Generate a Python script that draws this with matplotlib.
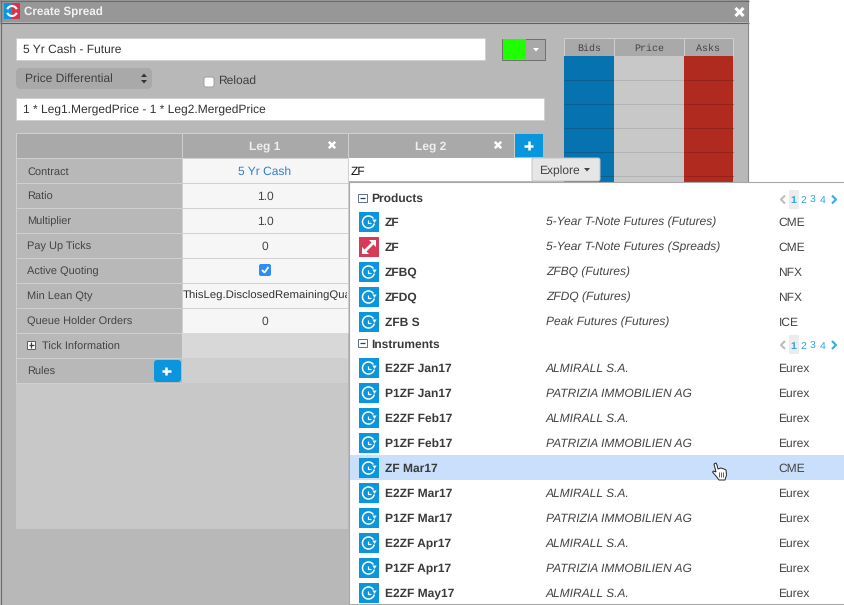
import matplotlib
matplotlib.use('Agg')
import matplotlib.pyplot as plt
from matplotlib.patches import Rectangle, FancyBboxPatch, Arc, Polygon

plt.rcParams['font.family'] = ['Liberation Sans', 'DejaVu Sans']
plt.rcParams['text.hinting'] = 'none'
plt.rcParams['lines.solid_capstyle'] = 'butt'

# text content
row_labels = ['Contract', 'Ratio', 'Multiplier', 'Pay Up Ticks', 'Active Quoting',
              'Min Lean Qty', 'Queue Holder Orders', 'Tick Information', 'Rules']
leg1_values = ['5 Yr Cash', '1.0', '1.0', '0', '', 'ThisLeg.DisclosedRemainingQuantity', '0']
ladder_headers = ['Bids', 'Price', 'Asks']
product_names = ['ZF', 'ZF', 'ZFBQ', 'ZFDQ', 'ZFB S']
product_desc = ['5-Year T-Note Futures (Futures)', '5-Year T-Note Futures (Spreads)',
                'ZFBQ (Futures)', 'ZFDQ (Futures)', 'Peak Futures (Futures)']
product_exch = ['CME', 'CME', 'NFX', 'NFX', 'ICE']
instr_names = ['E2ZF Jan17', 'P1ZF Jan17', 'E2ZF Feb17', 'P1ZF Feb17', 'ZF Mar17',
               'E2ZF Mar17', 'P1ZF Mar17', 'E2ZF Apr17', 'P1ZF Apr17', 'E2ZF May17']
instr_desc = ['ALMIRALL S.A.', 'PATRIZIA IMMOBILIEN AG', 'ALMIRALL S.A.', 'PATRIZIA IMMOBILIEN AG', '',
              'ALMIRALL S.A.', 'PATRIZIA IMMOBILIEN AG', 'ALMIRALL S.A.', 'PATRIZIA IMMOBILIEN AG', 'ALMIRALL S.A.']
instr_exch = ['Eurex', 'Eurex', 'Eurex', 'Eurex', 'CME', 'Eurex', 'Eurex', 'Eurex', 'Eurex', 'Eurex']
pages = ['1', '2', '3', '4']

BLUE = '#0a96dc'
DARK = '#3a3a3a'

fig = plt.figure(figsize=(8.45, 6.05), dpi=100)
ax = fig.add_axes([0, 0, 1, 1])
ax.set_xlim(0, 845)
ax.set_ylim(605, 0)
ax.axis('off')


def box(x0, y0, x1, y1, fc, ec='none', lw=1, z=1):
    r = Rectangle((x0, y0), x1 - x0, y1 - y0, fc=fc, ec=ec, lw=lw, zorder=z)
    ax.add_patch(r)
    return r


def rbox(x0, y0, x1, y1, fc, ec='none', rad=3, z=1, lw=0.7):
    ax.add_patch(FancyBboxPatch((x0 + rad, y0 + rad), x1 - x0 - 2 * rad, y1 - y0 - 2 * rad,
                                boxstyle='round,pad=%s' % rad, fc=fc, ec=ec, lw=lw, zorder=z))


def txt(x, y, s, px=12, color=DARK, ha='left', z=5, **kw):
    # y is the middle of the capitals, baseline sits below it
    return ax.text(x, y + px * 0.37, s, fontsize=px * 0.72, color=color, ha=ha, va='baseline', zorder=z, **kw)


def cross(x, y, r=3.5, color='white', lw=1.8, z=5):
    ax.plot([x - r, x + r], [y - r, y + r], color=color, lw=lw, zorder=z)
    ax.plot([x - r, x + r], [y + r, y - r], color=color, lw=lw, zorder=z)


def plus(x, y, r=4, color='white', lw=1.6, z=7):
    ax.plot([x - r, x + r], [y, y], color=color, lw=lw, zorder=z)
    ax.plot([x, x], [y - r, y + r], color=color, lw=lw, zorder=z)


def clock_icon(x, y):
    box(x, y - 10, x + 20, y + 10, BLUE, z=6)
    cx, cy = x + 9.5, y
    ax.add_patch(Arc((cx, cy), 12, 12, theta1=15, theta2=325, ec='white', lw=1.1, zorder=7))
    ax.plot([cx, cx, cx + 3], [cy - 2.5, cy + 0.5, cy + 0.5], color='white', lw=0.9, zorder=7)
    ax.add_patch(Polygon([(cx + 3.8, cy - 2.5), (cx + 8.2, cy - 2.5), (cx + 6, cy + 1)],
                         fc='white', ec='none', zorder=7))


def spread_icon(x, y):
    box(x, y - 10, x + 20, y + 10, '#d43c58', z=6)
    ax.plot([x + 6, x + 14], [y + 4, y - 4], color='white', lw=2, zorder=7)
    ax.add_patch(Polygon([(x + 10, y - 7), (x + 17, y - 7), (x + 17, y)], fc='white', ec='none', zorder=7))
    ax.add_patch(Polygon([(x + 3, y), (x + 3, y + 7), (x + 10, y + 7)], fc='white', ec='none', zorder=7))


def section(y, title):
    box(358.5, y - 4, 367.5, y + 4, 'white', ec='#5a7088', lw=0.7, z=6)
    ax.plot([360.5, 365.5], [y, y], color='#24405c', lw=0.9, zorder=7)
    txt(371, y, title, 12, DARK, fontweight='bold')
    py = y + 2
    box(789, py - 10, 799, py + 9, '#ececec', z=5)
    ax.plot([785, 781, 785], [py - 4, py, py + 4], color='#bdbdbd', lw=1.5, zorder=6)
    ax.plot([832, 836, 832], [py - 4, py, py + 4], color='#2fb0ee', lw=1.5, zorder=6)
    for i, p in enumerate(pages):
        txt(793.2 + i * 9.7, py, p, 10.5, '#2aa5e8', ha='center', z=6, fontweight='bold' if i == 0 else 'normal')


# window
box(0, 0, 749, 605, '#b8b8b8')
box(0, 0, 749, 22, '#979797')
ax.plot([0, 749], [22.5, 22.5], color='#5e5e5e', lw=0.8, zorder=2)
ax.plot([0.5, 0.5], [0, 605], color='#6c6c6c', lw=0.8, zorder=2)
ax.plot([748.5, 748.5], [0, 605], color='#8a8a8a', lw=0.8, zorder=2)
ax.plot([0, 749], [0.5, 0.5], color='#6c6c6c', lw=0.8, zorder=2)
box(4, 3, 12, 19, '#0a96dc', z=3)
box(12, 3, 20, 19, '#d8324e', z=3)
ax.add_patch(Arc((12, 11), 10, 10, theta1=20, theta2=160, ec='white', lw=1.5, zorder=4))
ax.add_patch(Arc((12, 11), 10, 10, theta1=200, theta2=340, ec='white', lw=1.5, zorder=4))
txt(24, 11, 'Create Spread', 11.6, '#f2f2f2', fontweight='bold')
cross(739.5, 12, 4, lw=2.2)

# name, type and formula fields
box(16, 38, 485, 59.5, 'white', ec='#cfcfcf', lw=0.7)
txt(23, 48.5, '5 Yr Cash - Future', 12, '#333333')
rbox(16, 68, 152, 89, '#a9a9a9', rad=5)
txt(25, 77.5, 'Price Differential', 12, '#3f3f3f')
ax.add_patch(Polygon([(141, 77), (147, 77), (144, 73.5)], fc='#333333', ec='none', zorder=5))
ax.add_patch(Polygon([(141, 80), (147, 80), (144, 83.5)], fc='#333333', ec='none', zorder=5))
rbox(204, 77, 214, 87, 'white', ec='#a0a0a0', rad=2)
txt(218.5, 79.5, 'Reload', 12, '#3f3f3f')
box(16, 98, 544, 120, 'white', ec='#cfcfcf', lw=0.7)
txt(23, 109, '1 * Leg1.MergedPrice - 1 * Leg2.MergedPrice', 12, '#333333')

# colour picker
box(502.5, 38.5, 545.5, 59.5, '#a8a8a8', ec='#6e6e6e', lw=0.7)
box(503, 39, 526, 59, '#1fff00', z=2)
ax.add_patch(Polygon([(533, 48), (539, 48), (536, 51.5)], fc='white', ec='none', zorder=3))

# ladder
ladder_x = [564, 614, 684, 733]
ladder_fill = ['#0673b0', '#c8c8c8', '#b02a20']
ladder_line = ['#0a5f90', '#b4b4b4', '#96231a']
for i, h in enumerate(ladder_headers):
    box(ladder_x[i], 38, ladder_x[i + 1], 56, '#a9a9a9', ec='#d0d0d0', lw=0.7)
    box(ladder_x[i], 56, ladder_x[i + 1], 190, ladder_fill[i], z=2)
    for k in range(1, 6):
        ax.plot(ladder_x[i:i + 2], [56 + k * 24, 56 + k * 24], color=ladder_line[i], lw=0.7, zorder=2)
    txt((ladder_x[i] + ladder_x[i + 1]) / 2, 47.5, h, 10, '#444444', ha='center',
        family=['Liberation Mono', 'DejaVu Sans Mono'])

# leg table
row_h = 25
top = 158
box(16, 383, 348, 529, '#c8c8c8')
box(16, 133, 182, 158, '#a9a9a9', ec='#d0d0d0', lw=0.7, z=2)
box(182, 133, 348, 158, '#a9a9a9', ec='#d0d0d0', lw=0.7, z=2)
box(348, 133, 514, 158, '#a9a9a9', ec='#d0d0d0', lw=0.7, z=2)
txt(265, 145.5, 'Leg 1', 12, '#eeeeee', ha='center', fontweight='bold')
txt(431, 145.5, 'Leg 2', 12, '#eeeeee', ha='center', fontweight='bold')
cross(332, 145, 3.2)
cross(498, 145, 3.2)
box(515, 134, 543, 157, BLUE, z=3)
plus(529, 145.5, 4.5, lw=1.8)

for i, label in enumerate(row_labels):
    y0 = top + i * row_h
    box(16, y0, 182, y0 + row_h, '#b8b8b8', ec='#d0d0d0', lw=0.7, z=2)
    if i < 7:
        box(182, y0, 348, y0 + row_h, '#f6f6f6', ec='#d0d0d0', lw=0.7, z=2)
    elif i == 7:
        box(182, y0, 348, y0 + row_h, '#d8d8d8', z=2)
    else:
        box(182, y0, 348, y0 + row_h, '#cfcfcf', z=2)
    if label == 'Tick Information':
        box(27.5, y0 + 8, 35.5, y0 + 16, 'white', ec='#4a6078', lw=0.7, z=4)
        plus(31.5, y0 + 12, 2.6, color='#24405c', lw=0.9)
        txt(42, y0 + 12.5, label, 11, '#444444')
    else:
        txt(27, y0 + 12.5, label, 11, '#444444')

for i, v in enumerate(leg1_values):
    yc = top + i * row_h + 12
    if i == 0:
        txt(265, yc, v, 12, '#2f7fd0', ha='center')
    elif i == 5:
        t = txt(182.5, yc, v, 11.4, '#333333')
        t.set_clip_on(True)
        t.set_clip_path(Rectangle((182, top), 165, 200, transform=ax.transData))
    elif v:
        txt(265, yc, v, 12, '#444444', ha='center')

# active quoting checkbox
rbox(259, 264, 271, 276, '#2f8cf5', rad=2, z=4)
ax.plot([262, 264.5, 268.5], [270, 272.5, 267], color='white', lw=1.3, zorder=5)

# rules add button
rbox(154, 360, 181, 382, BLUE, rad=3, z=4)
plus(166.5, 371, 4.2, lw=1.8)

# contract search box
box(349, 158, 532, 181, 'white', z=6)
txt(351, 171, 'ZF', 12, '#111111', z=7)
rbox(532, 158, 600, 181, '#e6e6e6', ec='#c4c4c4', rad=2, z=6)
txt(539.5, 170, 'Explore', 12, '#444444', z=7)
ax.add_patch(Polygon([(584, 168), (590, 168), (587, 171.5)], fc='#444444', ec='none', zorder=7))

# search results
box(349, 182, 860, 604, 'white', ec='#a8a8a8', lw=0.8, z=4)
section(197.5, 'Products')
section(343, 'Instruments')
for i, name in enumerate(product_names):
    yc = 221.5 + i * 25
    if i == 1:
        spread_icon(359, yc + 0.5)
    else:
        clock_icon(359, yc + 0.5)
    txt(385, yc, name, 12, DARK, z=7, fontweight='bold')
    txt(546, yc, product_desc[i], 12, '#444444', z=7, style='italic')
    txt(778.5, yc, product_exch[i], 12, '#444444', z=7)
for i, name in enumerate(instr_names):
    yc = 367.5 + i * 25
    if name == 'ZF Mar17':
        box(350, yc - 13, 845, yc + 12, '#c9dffb', z=5)
    clock_icon(359, yc + 0.5)
    txt(385, yc, name, 12, DARK, z=7, fontweight='bold')
    txt(546, yc, instr_desc[i], 12, '#444444', z=7, style='italic')
    txt(778.5, yc, instr_exch[i], 12, '#444444', z=7)

# hand cursor
hand = [(714, 464), (716, 463), (717, 465), (718, 469), (721, 468), (724, 469), (726, 470),
        (726.5, 475), (725, 480), (719, 480), (716, 476), (712.5, 472), (713.5, 471), (716, 472)]
ax.add_patch(Polygon(hand, fc='white', ec='#222222', lw=0.7, zorder=9))
for x in (719.5, 721.5, 723.5):
    ax.plot([x, x], [472, 477], color='#222222', lw=0.5, zorder=10)

fig.savefig('out.png', dpi=100, facecolor='white')
